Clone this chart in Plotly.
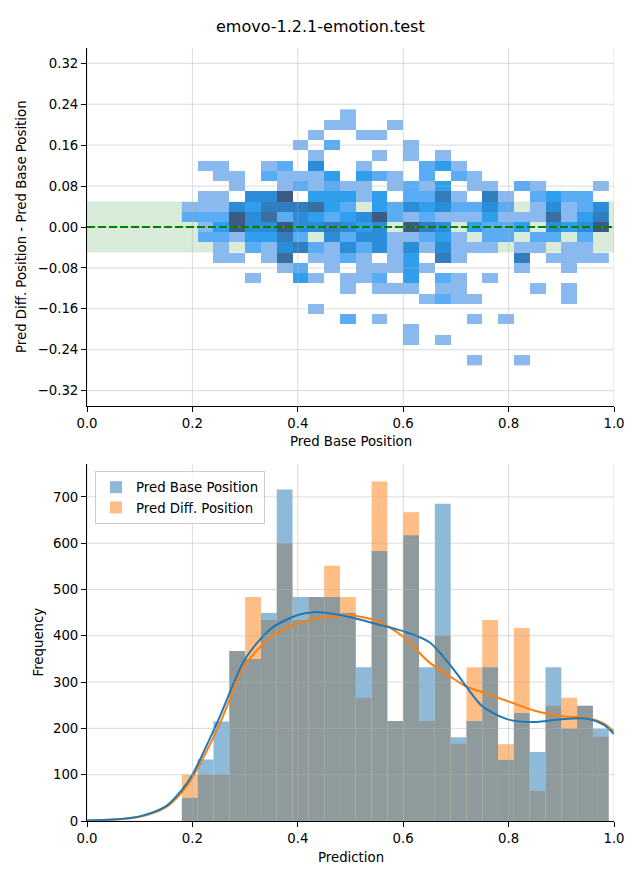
import plotly.graph_objects as go

# ---------------- data ----------------
title_text = "emovo-1.2.1-emotion.test"

# 1D histogram (27 bins of width 0.03 starting at 0.18)
bin_start = 0.18
bin_width = 0.03
base_counts = [50, 133, 215, 367, 350, 449, 716, 484, 484, 484, 449, 332, 583, 216,
               617, 332, 685, 181, 216, 332, 132, 233, 149, 332, 199, 249, 199]
diff_counts = [100, 100, 100, 367, 484, 434, 600, 434, 484, 551, 484, 266, 733, 216,
               667, 216, 400, 167, 332, 434, 166, 417, 65, 249, 266, 249, 182]

# KDE curves
kde_x = [0.0, 0.05, 0.1, 0.15, 0.18, 0.2, 0.25, 0.3, 0.35, 0.4, 0.43, 0.45, 0.5, 0.55,
         0.6, 0.65, 0.7, 0.72, 0.75, 0.8, 0.85, 0.9, 0.95, 0.98, 1.0]
kde_base = [1, 3, 10, 32, 67, 100, 220, 350, 416, 445, 451, 450, 440, 425,
            410, 386, 321, 290, 248, 219, 214, 220, 221, 208, 188]
kde_diff = [1, 3, 9, 30, 62, 94, 205, 337, 398, 427, 436, 440, 444, 432,
            398, 342, 304, 290, 278, 258, 238, 227, 222, 211, 193]

# 2D histogram: rows (y bin centres) with intensity level per x bin ('.' = empty)
heat_y = [0.22, 0.20, 0.18, 0.16, 0.14, 0.12, 0.10, 0.08, 0.06, 0.04, 0.02, 0.0,
          -0.02, -0.04, -0.06, -0.08, -0.10, -0.12, -0.14, -0.16, -0.18, -0.20,
          -0.22, -0.24, -0.26]
heat_rows = [
    "..........1................",
    ".........11..1.............",
    "........1..11..............",
    ".......1.2....1............",
    "........1...1.1.1..........",
    ".11..12.4..1...231.........",
    "..11.21113.321.2.21........",
    "...1..121211.1213.11.21...1",
    ".11.447.33313.2251.51.2322.",
    "11143555632.324342242.14124",
    "222746243234721211131116135",
    ".137447445434.754.3223.4347",
    ".2213352.424411231.22.22.2.",
    "..1.2145214241414111.11.11.",
    "..11.16.1121.13.51...5.1111",
    "......12.1.11131.....1..1..",
    "....1..31.112.3.21.1.......",
    "..........1.111.11....1.1..",
    "...............1211.....1..",
    "........1..................",
    "..........2.1.....1.1......",
    "..............1............",
    "..............1.1..........",
    "...........................",
    "..................1..1.....",
]
level_colors = ["#8ab9f0", "#5aacf5", "#2f9eec", "#2b8cd7", "#327dbe", "#3a6fa0", "#3c5a82"]

top_xticks = [0.0, 0.2, 0.4, 0.6, 0.8, 1.0]
top_yticks = [-0.32, -0.24, -0.16, -0.08, 0.0, 0.08, 0.16, 0.24, 0.32]
bot_yticks = [0, 100, 200, 300, 400, 500, 600, 700]
band_half = 0.05

# ---------------- build ----------------
W, H, OFF = 640, 880, 8   # page body margin offsets the figure by 8px


def px(x):
    return (x - OFF) / W


def py(y):
    return 1 - (y - OFF) / H


n_bins = len(base_counts)
centers = [bin_start + bin_width * (i + 0.5) for i in range(n_bins)]

z = []
for row in heat_rows:
    row = row.ljust(n_bins, ".")[:n_bins]
    z.append([None if ch == "." else int(ch) for ch in row])

nl = len(level_colors)
cscale = []
for i, c in enumerate(level_colors):
    cscale.append([i / nl, c])
    cscale.append([(i + 1) / nl, c])

FONT = "DejaVu Sans"
fig = go.Figure()

fig.add_trace(go.Heatmap(
    x=centers, y=heat_y, z=z, colorscale=cscale, zmin=0.5, zmax=nl + 0.5,
    showscale=False, xaxis="x", yaxis="y", hoverongaps=False))

fig.add_trace(go.Bar(x=centers, y=diff_counts, width=bin_width, name="Pred Diff. Position",
                     marker=dict(color="#ff7f0e", line=dict(width=0)), opacity=0.5,
                     xaxis="x2", yaxis="y2", legendrank=2))
fig.add_trace(go.Bar(x=centers, y=base_counts, width=bin_width, name="Pred Base Position",
                     marker=dict(color="#1f77b4", line=dict(width=0)), opacity=0.5,
                     xaxis="x2", yaxis="y2", legendrank=1))
fig.add_trace(go.Scatter(x=kde_x, y=kde_diff, mode="lines",
                         line=dict(color="#ff7f0e", width=2, shape="spline", smoothing=0.8),
                         showlegend=False, xaxis="x2", yaxis="y2"))
fig.add_trace(go.Scatter(x=kde_x, y=kde_base, mode="lines",
                         line=dict(color="#1f77b4", width=2, shape="spline", smoothing=0.8),
                         showlegend=False, xaxis="x2", yaxis="y2"))

shapes = []
shapes.append(dict(type="rect", xref="x", yref="y", x0=0, x1=1, y0=-band_half, y1=band_half,
                   fillcolor="rgba(0,128,0,0.15)", line=dict(width=0), layer="below"))
grid_col = "rgba(176,176,176,0.45)"
for xv in top_xticks:
    shapes.append(dict(type="line", xref="x", yref="y domain", x0=xv, x1=xv, y0=0, y1=1,
                       line=dict(color=grid_col, width=1), layer="above"))
    shapes.append(dict(type="line", xref="x2", yref="y2 domain", x0=xv, x1=xv, y0=0, y1=1,
                       line=dict(color=grid_col, width=1), layer="above"))
for yv in top_yticks:
    shapes.append(dict(type="line", xref="x domain", yref="y", x0=0, x1=1, y0=yv, y1=yv,
                       line=dict(color=grid_col, width=1), layer="above"))
for yv in bot_yticks:
    shapes.append(dict(type="line", xref="x2 domain", yref="y2", x0=0, x1=1, y0=yv, y1=yv,
                       line=dict(color=grid_col, width=1), layer="above"))
shapes.append(dict(type="line", xref="x domain", yref="y", x0=0, x1=1, y0=0, y1=0,
                   line=dict(color="#008000", width=2, dash="8px,3px"), layer="above"))

axis_common = dict(showline=True, linecolor="black", linewidth=1, ticks="outside", ticklen=5,
                   tickwidth=1, tickcolor="black", showgrid=False, zeroline=False, automargin=False,
                   tickfont=dict(family=FONT, size=13.3, color="black"))

fig.update_layout(
    width=W, height=H, margin=dict(l=0, r=0, t=0, b=0, autoexpand=False),
    paper_bgcolor="white", plot_bgcolor="white", barmode="overlay",
    font=dict(family=FONT, size=13.3, color="black"),
    xaxis=dict(domain=[px(87), px(614)], range=[0, 1], tickvals=top_xticks, tickformat=".1f",
               anchor="y", **axis_common),
    yaxis=dict(domain=[py(406), py(48)], range=[-0.35, 0.35], tickvals=top_yticks,
               tickformat=".2f", anchor="x", **axis_common),
    xaxis2=dict(domain=[px(87), px(614)], range=[0, 1], tickvals=top_xticks, tickformat=".1f",
                anchor="y2", **axis_common),
    yaxis2=dict(domain=[py(821), py(464)], range=[0, 771], tickvals=bot_yticks,
                anchor="x2", **axis_common),
    shapes=shapes,
    legend=dict(x=px(95), y=py(471), xanchor="left", yanchor="top",
                bgcolor="rgba(255,255,255,0.8)", bordercolor="#cccccc", borderwidth=1,
                font=dict(family=FONT, size=13.3, color="black")),
    annotations=[
        dict(text=title_text, x=px(320), y=py(26), xref="paper", yref="paper", showarrow=False,
             font=dict(family=FONT, size=16, color="black"), xanchor="center", yanchor="middle"),
        dict(text="Pred Base Position", x=px(350.5), y=py(441), xref="paper", yref="paper",
             showarrow=False, font=dict(family=FONT, size=13.3), xanchor="center", yanchor="middle"),
        dict(text="Prediction", x=px(350.5), y=py(857), xref="paper", yref="paper",
             showarrow=False, font=dict(family=FONT, size=13.3), xanchor="center", yanchor="middle"),
        dict(text="Pred Diff. Position - Pred Base Position", x=px(21), y=py(227),
             xref="paper", yref="paper", showarrow=False, textangle=-90,
             font=dict(family=FONT, size=13.3), xanchor="center", yanchor="middle"),
        dict(text="Frequency", x=px(38), y=py(642.5), xref="paper", yref="paper",
             showarrow=False, textangle=-90, font=dict(family=FONT, size=13.3),
             xanchor="center", yanchor="middle"),
    ],
)

fig.write_html("out.html")
